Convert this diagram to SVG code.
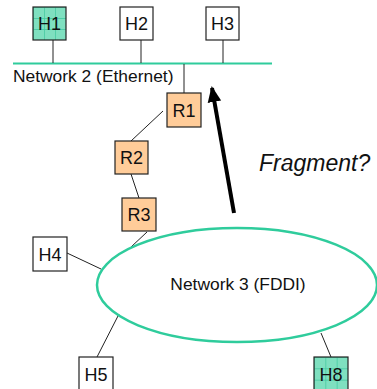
<svg xmlns="http://www.w3.org/2000/svg" width="377" height="389" viewBox="0 0 377 389">
<style>
.box{stroke:#222;stroke-width:1.2}
.host{fill:#fff}
.rtr{fill:#ffcc99}
.lbl{font-family:"Liberation Sans",Arial,sans-serif;font-size:18px;fill:#111;text-anchor:middle}
.net{font-family:"Liberation Sans",Arial,sans-serif;font-size:17.4px;fill:#111}
.wire{stroke:#222;stroke-width:1;fill:none}
.teal{stroke:#2fcc9c;fill:none}
</style>
<defs>
<pattern id="grid" patternUnits="objectBoundingBox" width="0.33333" height="0.33333" patternContentUnits="objectBoundingBox">
<rect width="0.33333" height="0.33333" fill="#7fe0c0"/>
<path d="M0,0H0.33333M0,0V0.33333" stroke="#3cc79c" stroke-width="0.04"/>
</pattern>
<marker id="ah" markerWidth="4" markerHeight="4" refX="3.5" refY="2" orient="auto" markerUnits="strokeWidth">
<path d="M0,0.3L4,2L0,3.7Z" fill="#000"/>
</marker>
</defs>
<g id="connectors">
<line class="teal" x1="13" y1="63.5" x2="272" y2="63.5" stroke-width="2"/>
<line class="wire" x1="53" y1="40" x2="53" y2="63"/>
<line class="wire" x1="141" y1="40" x2="141" y2="63"/>
<line class="wire" x1="223" y1="40" x2="223" y2="63"/>
<line class="wire" x1="184" y1="64" x2="184" y2="93"/>
<line class="wire" x1="163" y1="111" x2="131" y2="141"/>
<line class="wire" x1="131" y1="174" x2="139" y2="198"/>
<line class="wire" x1="147" y1="232" x2="131" y2="247"/>
<line class="wire" x1="67" y1="253" x2="101" y2="269"/>
<line class="wire" x1="97" y1="357" x2="119" y2="314"/>
<line class="wire" x1="331" y1="357" x2="321" y2="333"/>
<line x1="234" y1="213" x2="212" y2="88" stroke="#000" stroke-width="4" marker-end="url(#ah)"/>
</g>
<g id="net2"><text class="net" x="13" y="81.5">Network 2 (Ethernet)</text></g>
<g id="net3">
<ellipse class="teal" cx="237" cy="285" rx="140" ry="57" stroke-width="2.5"/>
<text class="net" x="238" y="290" text-anchor="middle">Network 3 (FDDI)</text>
</g>
<g id="H1"><rect class="box" x="33" y="7" width="33" height="33" fill="url(#grid)"/><text class="lbl" x="49.5" y="30">H1</text></g>
<g id="H2"><rect class="box host" x="120" y="7" width="33" height="33"/><text class="lbl" x="136.5" y="30">H2</text></g>
<g id="H3"><rect class="box host" x="206" y="7" width="33" height="33"/><text class="lbl" x="222.5" y="30">H3</text></g>
<g id="R1"><rect class="box rtr" x="167" y="93" width="34" height="34"/><text class="lbl" x="184" y="116.5">R1</text></g>
<g id="R2"><rect class="box rtr" x="115" y="141" width="33" height="33"/><text class="lbl" x="131.5" y="164">R2</text></g>
<g id="R3"><rect class="box rtr" x="122" y="198" width="34" height="33"/><text class="lbl" x="139" y="221">R3</text></g>
<g id="H4"><rect class="box host" x="33" y="237" width="34" height="34"/><text class="lbl" x="50" y="260.5">H4</text></g>
<g id="H5"><rect class="box host" x="79" y="357" width="34" height="34"/><text class="lbl" x="96" y="380.5">H5</text></g>
<g id="H8"><rect class="box" x="314" y="357" width="34" height="34" fill="url(#grid)"/><text class="lbl" x="331" y="380.5">H8</text></g>
<g id="fragment"><text x="259" y="171" font-family="'Liberation Sans',Arial,sans-serif" font-size="23" font-style="italic" fill="#111">Fragment?</text></g>
</svg>
